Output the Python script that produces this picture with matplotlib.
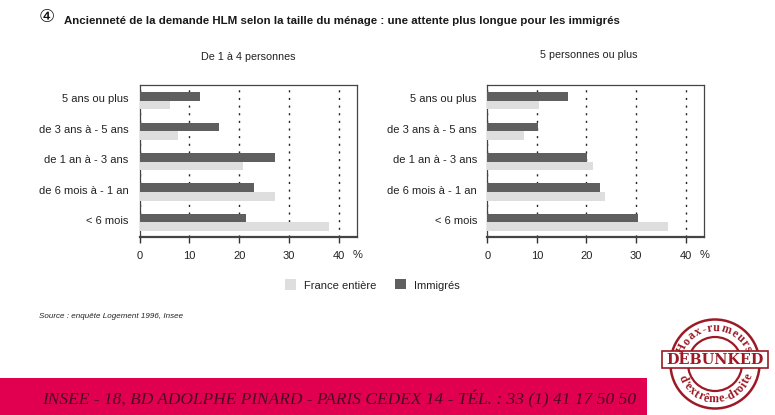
import numpy as np
import matplotlib
matplotlib.use('Agg')
import matplotlib.pyplot as plt
from matplotlib.font_manager import FontProperties
from matplotlib.patches import Circle, Rectangle
from matplotlib.textpath import TextPath
from matplotlib.transforms import ScaledTranslation

plt.rcParams['font.family'] = ['Liberation Sans', 'DejaVu Sans']

categories = ['< 6 mois', 'de 6 mois à - 1 an', 'de 1 an à - 3 ans', 'de 3 ans à - 5 ans', '5 ans ou plus']
left_immigres = [21.3, 22.9, 27.2, 16.0, 12.2]
left_france = [38.0, 27.2, 20.7, 7.8, 6.1]
right_immigres = [30.3, 22.7, 20.2, 10.2, 16.3]
right_france = [36.4, 23.7, 21.4, 7.5, 10.5]
xticks = [0, 10, 20, 30, 40]

DARK = '#5f5f5f'
LIGHT = '#dedede'
W, H = 775, 415
STAMP = '#9c1a25'


def _axes_px(fig, x0, y0, x1, y1):
    return fig.add_axes([x0 / W, 1 - y1 / H, (x1 - x0) / W, (y1 - y0) / H])


def _draw_panel(fig, ax, immigres, france, pad):
    pos = np.arange(len(categories))
    h = 0.285
    ax.barh(pos + h / 2, immigres, h, color=DARK, zorder=3)
    ax.barh(pos - h / 2, france, h, color=LIGHT, zorder=3)
    ax.set_xlim(0, 43.6)
    ax.set_ylim(-0.48, 4.52)
    ax.set_yticks(pos)
    ax.set_yticklabels(categories, fontsize=8.0, color='#222222')
    ax.tick_params(axis='y', length=0, pad=pad)
    # labels sit a little above the middle of each pair of bars
    up = ScaledTranslation(0, 2.5 / 100, fig.dpi_scale_trans)
    for lab in ax.get_yticklabels():
        lab.set_transform(lab.get_transform() + up)
    ax.set_xticks(xticks)
    ax.tick_params(axis='x', length=4, width=1, color='#333333', pad=6, labelsize=8.0, labelcolor='#222222')
    ax.grid(axis='x', color='#222222', linestyle=(0, (1.5, 4)), linewidth=1, zorder=1)
    for s in ['top', 'right', 'left']:
        ax.spines[s].set_linewidth(0.9)
        ax.spines[s].set_color('#444444')
    ax.spines['bottom'].set_linewidth(1.6)
    ax.spines['bottom'].set_color('#444444')
    ax.text(43.8, -1.07, '%', fontsize=8.0, color='#222222', ha='center', va='center', clip_on=False)


def _arc_text(ov, s, cx, cy, r, a0, a1, top=True, size=8.6):
    # one rotated letter at a time round the ring, spaced by glyph width
    prop = FontProperties(family='Liberation Serif', weight='bold')
    widths = np.array([TextPath((0, 0), ch, size=1, prop=prop).get_extents().width + 0.12 for ch in s])
    mids = np.cumsum(widths) - widths / 2
    angles = a0 + (a1 - a0) * (mids - mids[0]) / (mids[-1] - mids[0])
    for ch, a in zip(s, angles):
        t = np.radians(a)
        x = cx + r * np.cos(t)
        y = cy - r * np.sin(t)
        rot = a - 90 if top else a + 90
        ov.text(x, y, ch, fontsize=size, fontproperties=None, family='Liberation Serif', weight='bold',
                color=STAMP, rotation=rot, ha='center', va='center', rotation_mode='anchor')


def _draw_stamp(ov):
    cx, cy = 715, 364
    ov.add_patch(Circle((cx, cy), 44.5, fill=False, ec=STAMP, lw=1.8))
    ov.add_patch(Circle((cx, cy), 27, fill=False, ec=STAMP, lw=1.6))
    ov.add_patch(Rectangle((662, 351), 106, 17, fc='white', ec=STAMP, lw=1.2, zorder=3))
    ov.text(715, 359.7, 'DEBUNKED', fontsize=10.4, family='DejaVu Serif', weight='bold', color=STAMP,
            ha='center', va='center', zorder=4)
    _arc_text(ov, 'Hoax-rumeurs', cx, cy, 36, 155, 25)
    _arc_text(ov, "d'extrême-droite", cx, cy, 35.5, 205, 340, top=False)


def main():
    fig = plt.figure(figsize=(W / 100, H / 100), dpi=100)

    ax1 = _axes_px(fig, 139.5, 85, 357, 237)
    _draw_panel(fig, ax1, left_immigres, left_france, 8)
    ax2 = _axes_px(fig, 487.3, 85, 703.5, 237)
    _draw_panel(fig, ax2, right_immigres, right_france, 7.5)

    # overlay in pixel coords for the page furniture
    ov = fig.add_axes([0, 0, 1, 1], facecolor='none')
    ov.set_xlim(0, W)
    ov.set_ylim(H, 0)
    ov.axis('off')

    ov.text(46.5, 17.5, '④', fontsize=13, family='DejaVu Sans', color='#111111', ha='center', va='center')
    ov.text(64.5, 20.5, 'Ancienneté de la demande HLM selon la taille du ménage : une attente plus longue pour les immigrés',
            fontsize=8.25, weight='bold', color='#1a1a1a', ha='left', va='center')
    ov.text(248, 57, 'De 1 à 4 personnes', fontsize=7.75, color='#222222', ha='center', va='center')
    ov.text(588.5, 55, '5 personnes ou plus', fontsize=7.75, color='#222222', ha='center', va='center')

    ov.add_patch(Rectangle((284.5, 279), 11.5, 11, fc=LIGHT, ec='none'))
    ov.text(304, 286, 'France entière', fontsize=8.0, color='#222222', ha='left', va='center')
    ov.add_patch(Rectangle((395, 279), 11, 10, fc=DARK, ec='none'))
    ov.text(414, 286, 'Immigrés', fontsize=8.0, color='#222222', ha='left', va='center')

    ov.text(39, 316, 'Source : enquête Logement 1996, Insee', fontsize=5.75, style='italic', color='#222222',
            ha='left', va='center')

    ov.add_patch(Rectangle((0, 378), 647, 37, fc='#e0004f', ec='none'))
    ov.text(42, 399.5, 'INSEE - 18, BD ADOLPHE PINARD - PARIS CEDEX 14 - TÉL. : 33 (1) 41 17 50 50',
            fontsize=12.5, family='Liberation Serif', style='italic', color='#4a0a24', ha='left', va='center')

    _draw_stamp(ov)

    fig.savefig('out.png', dpi=100)


if __name__ == '__main__':
    main()
